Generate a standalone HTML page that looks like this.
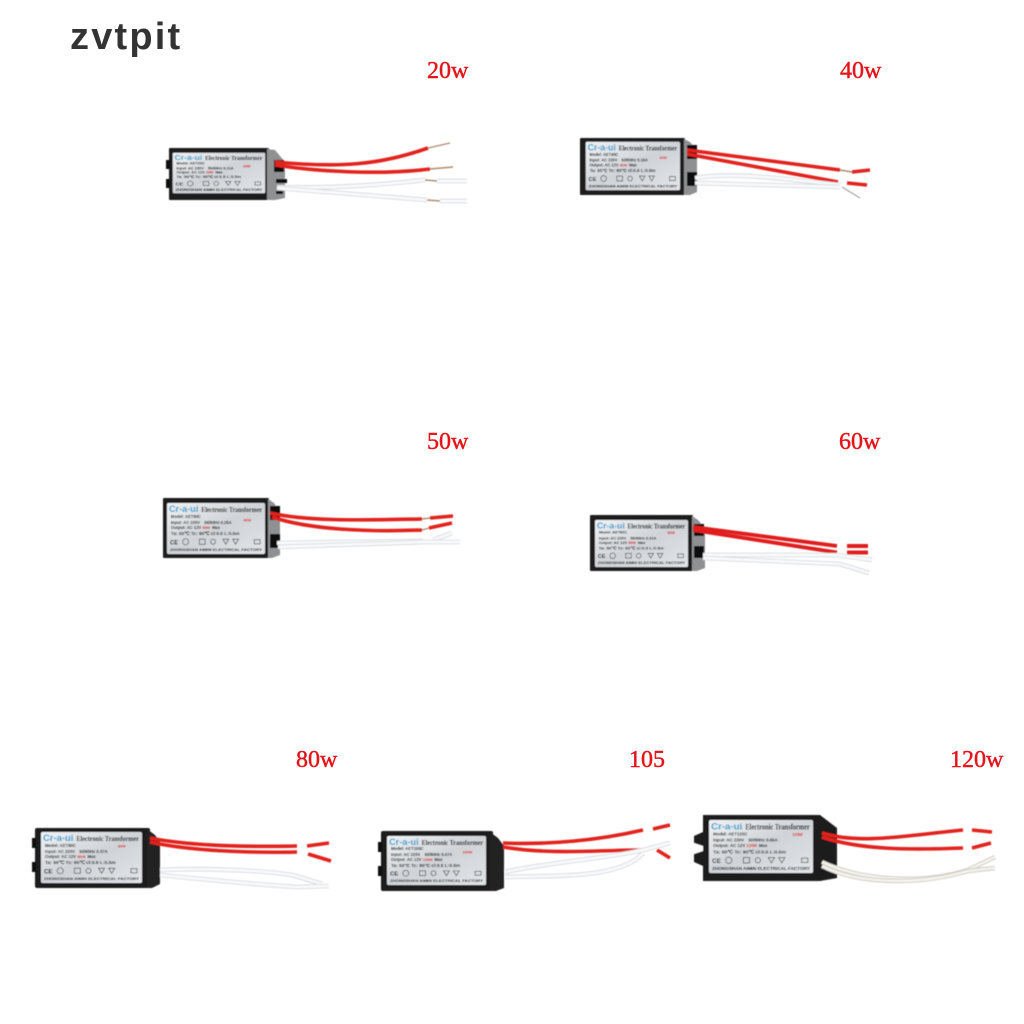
<!DOCTYPE html>
<html><head><meta charset="utf-8"><style>
html,body{margin:0;padding:0;background:#fff;width:1024px;height:1024px;overflow:hidden}
svg{display:block}
text{font-family:"Liberation Sans",sans-serif}
.s{font-family:"Liberation Serif",serif;font-size:24px;fill:#e4141a;stroke:#e4141a;stroke-width:.45}
.r{fill:none;stroke:#e2201f;stroke-width:3.6;stroke-linecap:butt}
.r4{fill:none;stroke:#e01c1e;stroke-width:3.9}
.w{fill:none;stroke:#d3d6da;stroke-width:4.6}
.w2{fill:none;stroke:#f8f9fa;stroke-width:3}
.c{fill:none;stroke:#b08a70;stroke-width:1.4}
.t{font-size:4.2px;fill:#222;font-weight:bold}
.h{font-size:7.4px;font-weight:bold;fill:#111;font-family:"Liberation Serif",serif}
.l{font-size:9px;font-weight:bold;fill:#2f9fd0}
.f{font-size:3.9px;font-weight:bold;fill:#111}
.red{font-size:3.9px;fill:#d22;font-weight:bold}
.ce{font-size:6px;font-weight:bold;fill:#111}
.i{fill:none;stroke:#444;stroke-width:.7}
</style></head><body>
<svg width="1024" height="1024" viewBox="0 0 1024 1024" xmlns="http://www.w3.org/2000/svg">
<defs>
<filter id="b" x="-5%" y="-5%" width="110%" height="110%"><feGaussianBlur stdDeviation="0.45"/></filter>
<linearGradient id="g" x1="0" y1="0" x2="1" y2="1"><stop offset="0" stop-color="#f0f2f4"/><stop offset=".5" stop-color="#cfd3d7"/><stop offset="1" stop-color="#e2e5e8"/></linearGradient>
</defs>
<text x="70" y="49" font-size="38" font-weight="bold" letter-spacing="2.200" fill="#333">zvtpit</text>
<text class="s" x="427" y="78">20w</text>
<text class="s" x="840" y="78">40w</text>
<text class="s" x="427" y="449">50w</text>
<text class="s" x="839" y="449">60w</text>
<text class="s" x="296" y="767">80w</text>
<text class="s" x="629" y="767">105</text>
<text class="s" x="950" y="767">120w</text>

<g filter="url(#b)">
<!-- D1 -->
<rect x="169" y="148" width="100" height="52" rx="1" fill="#1c1c1e"/>
<path d="M267 149L275 150L285 162V198L275 200H267Z" fill="#8f9092"/>
<rect x="274" y="160" width="10" height="12" fill="#111"/><rect x="276" y="179" width="11" height="4" fill="#111"/><rect x="276" y="191" width="7" height="3" fill="#111"/>
<rect x="166" y="160" width="4" height="9" fill="#111"/><rect x="166" y="179" width="4" height="9" fill="#111"/>
<path class="r" d="M275 162C340 168 380 165 428 148"/><path class="c" d="M428 148L450 143"/>
<path class="r" d="M275 165C320 172 380 175 430 169"/><path class="c" d="M430 169L453 167"/>
<path class="w" d="M277 187C330 189 380 185 425 180"/><path class="w2" d="M277 187C330 189 380 185 425 180"/><path class="c" d="M425 180L437 181"/><path class="w" d="M437 181H467"/><path class="w2" d="M437 181H467"/>
<path class="w" d="M277 188L427 200"/><path class="w2" d="M277 188L427 200"/><path class="c" d="M427 200L440 201"/><path class="w" d="M440 201L467 201"/><path class="w2" d="M440 201L467 201"/>
<g transform="translate(172.7,152.7) scale(.925,.81)">
<rect width="100" height="50" rx="1.5" fill="url(#g)"/>
<text class="l" x="2" y="9" textLength="30" lengthAdjust="spacingAndGlyphs">Cr-a-ui</text><text class="h" x="35" y="9" textLength="62" lengthAdjust="spacingAndGlyphs">Electronic Transformer</text>
<text class="t" x="4" y="14.500">Model: AET20C</text><text class="t" x="4" y="20.500">Input: AC 220V</text><text class="t" x="38" y="20.500">50/60Hz  0.11A</text>
<text class="t" x="4" y="25.500">Output: AC 12V</text><text class="red" x="36" y="25.500">20W</text><text class="t" x="46" y="25.500">Max</text><text class="red" x="76" y="18">20W</text>
<text class="t" x="4" y="31.500" textLength="70" lengthAdjust="spacingAndGlyphs">Ta: 50℃   Tc: 90℃   cl:0.5 L:0.5m</text>
<text class="ce" x="3" y="40.500">CE</text><circle class="i" cx="19" cy="38" r="3"/><rect class="i" x="33" y="35.500" width="6" height="5"/><circle class="i" cx="47" cy="38" r="2.500"/><path class="i" d="M57 35.500h6l-3 5zM67 35.500h6l-3 5z"/><rect class="i" x="89" y="36" width="6" height="4"/>
<text class="f" x="3" y="47" textLength="94" lengthAdjust="spacingAndGlyphs">ZHONGSHAN AIMIN ELECTRICAL FACTORY</text>
</g>
<!-- D2 -->
<rect x="580" y="138" width="105" height="57" rx="1" fill="#1c1c1e"/>
<path d="M684 139L690 142L697 150V192L690 195H684Z" fill="#8f9092"/>
<rect x="687" y="145" width="10" height="14" fill="#111"/><rect x="687" y="172" width="10" height="14" fill="#111"/>
<path class="r" d="M687 150L840 170"/><path class="r" d="M852 172L870 170"/><path class="c" d="M840 170L852 172"/>
<path class="r" d="M687 154L838 182"/><path class="r" d="M847 183L867 185"/>
<path class="w" d="M695 178C730 172 780 178 840 185"/><path class="w2" d="M695 178C730 172 780 178 840 185"/>
<path class="w" d="M695 183L840 187"/><path class="w2" d="M695 183L840 187"/>
<path d="M842 187L860 198" fill="none" stroke="#8a8a8a" stroke-width="1"/>
<g transform="translate(585.700,141.700) scale(.943,.97)">
<rect width="100" height="50" rx="1.5" fill="url(#g)"/>
<text class="l" x="2" y="9" textLength="30" lengthAdjust="spacingAndGlyphs">Cr-a-ui</text><text class="h" x="35" y="9" textLength="62" lengthAdjust="spacingAndGlyphs">Electronic Transformer</text>
<text class="t" x="4" y="14.500">Model: AET40C</text><text class="t" x="4" y="20.500">Input: AC 220V</text><text class="t" x="38" y="20.500">50/60Hz  0.16A</text>
<text class="t" x="4" y="25.500">Output: AC 12V</text><text class="red" x="36" y="25.500">40W</text><text class="t" x="46" y="25.500">Max</text><text class="red" x="78" y="18">40W</text>
<text class="t" x="4" y="31.500" textLength="70" lengthAdjust="spacingAndGlyphs">Ta: 50℃   Tc: 90℃   cl:0.5 L:0.5m</text>
<text class="ce" x="3" y="40.500">CE</text><circle class="i" cx="19" cy="38" r="3"/><rect class="i" x="33" y="35.500" width="6" height="5"/><circle class="i" cx="47" cy="38" r="2.500"/><path class="i" d="M57 35.500h6l-3 5zM67 35.500h6l-3 5z"/><rect class="i" x="89" y="36" width="6" height="4"/>
<text class="f" x="3" y="47" textLength="94" lengthAdjust="spacingAndGlyphs">ZHONGSHAN AIMIN ELECTRICAL FACTORY</text>
</g>
<!-- D3 -->
<rect x="163" y="498" width="106" height="60" rx="1" fill="#1c1c1e"/>
<path d="M268 499L274 503L280 512V555L272 558H268Z" fill="#8f9092"/>
<rect x="270" y="506" width="10" height="14" fill="#111"/><rect x="270" y="534" width="10" height="14" fill="#111"/>
<path class="r" d="M270 513C310 522 370 520 422 519"/><path class="r" d="M430 518L453 516"/><path class="c" d="M422 519L430 518"/>
<path class="r" d="M272 517C310 530 370 532 422 530"/><path class="r" d="M429 528L452 523"/><path class="c" d="M422 530L429 528"/>
<path class="w" d="M277 543L423 541"/><path class="w2" d="M277 543L423 541"/>
<path class="w" d="M433 540L452 533"/><path class="w2" d="M433 540L452 533"/>
<path class="w" d="M278 547L423 542L460 542"/><path class="w2" d="M278 547L423 542L460 542"/>
<g transform="translate(167,503) scale(.98,1.02)">
<rect width="100" height="50" rx="1.500" fill="url(#g)"/>
<text class="l" x="2" y="9" textLength="30" lengthAdjust="spacingAndGlyphs">Cr-a-ui</text><text class="h" x="35" y="9" textLength="62" lengthAdjust="spacingAndGlyphs">Electronic Transformer</text>
<text class="t" x="4" y="14.500">Model: AET50C</text><text class="t" x="4" y="20.500">Input: AC 220V</text><text class="t" x="38" y="20.500">50/60Hz  0.25A</text>
<text class="t" x="4" y="25.500">Output: AC 12V</text><text class="red" x="36" y="25.500">50W</text><text class="t" x="46" y="25.500">Max</text><text class="red" x="78" y="18">50W</text>
<text class="t" x="4" y="31.500" textLength="70" lengthAdjust="spacingAndGlyphs">Ta: 50℃   Tc: 90℃   cl:0.5 L:0.5m</text>
<text class="ce" x="3" y="40.500">CE</text><circle class="i" cx="19" cy="38" r="3"/><rect class="i" x="33" y="35.500" width="6" height="5"/><circle class="i" cx="47" cy="38" r="2.500"/><path class="i" d="M57 35.500h6l-3 5zM67 35.500h6l-3 5z"/><rect class="i" x="89" y="36" width="6" height="4"/>
<text class="f" x="3" y="47" textLength="94" lengthAdjust="spacingAndGlyphs">ZHONGSHAN AIMIN ELECTRICAL FACTORY</text>
</g>
<!-- D4 -->
<rect x="590" y="515" width="103" height="56" rx="1" fill="#1c1c1e"/>
<path d="M692 516L698 520L705 528V568L697 571H692Z" fill="#8f9092"/>
<rect x="694" y="524" width="10" height="12" fill="#111"/><rect x="694" y="546" width="10" height="12" fill="#111"/>
<path class="r4" d="M693 527L837 546"/><path class="r4" d="M847 546L868 546"/>
<path class="r4" d="M693 530L837 552.500"/><path class="r4" d="M847 552.500L868 552.500"/>
<path class="w" d="M703 555L837 555L872 560"/><path class="w2" d="M703 555L837 555L872 560"/>
<path class="w" d="M703 558L840 564L869 573"/><path class="w2" d="M703 558L840 564L869 573"/>
<g transform="translate(595,520) scale(.93,.94)">
<rect width="100" height="50" rx="1.500" fill="url(#g)"/>
<text class="l" x="2" y="9" textLength="30" lengthAdjust="spacingAndGlyphs">Cr-a-ui</text><text class="h" x="35" y="9" textLength="62" lengthAdjust="spacingAndGlyphs">Electronic Transformer</text>
<text class="t" x="4" y="14.500">Model: AET60C</text><text class="t" x="4" y="20.500">Input: AC 220V</text><text class="t" x="38" y="20.500">50/60Hz  0.31A</text>
<text class="t" x="4" y="25.500">Output: AC 12V</text><text class="red" x="36" y="25.500">60W</text><text class="t" x="46" y="25.500">Max</text><text class="red" x="78" y="15">60W</text>
<text class="t" x="4" y="31.500" textLength="70" lengthAdjust="spacingAndGlyphs">Ta: 50℃   Tc: 90℃   cl:0.5 L:0.5m</text>
<text class="ce" x="3" y="40.500">CE</text><circle class="i" cx="19" cy="38" r="3"/><rect class="i" x="33" y="35.500" width="6" height="5"/><circle class="i" cx="47" cy="38" r="2.500"/><path class="i" d="M57 35.500h6l-3 5zM67 35.500h6l-3 5z"/><rect class="i" x="89" y="36" width="6" height="4"/>
<text class="f" x="3" y="47" textLength="94" lengthAdjust="spacingAndGlyphs">ZHONGSHAN AIMIN ELECTRICAL FACTORY</text>
</g>
<!-- D5 -->
<rect x="35" y="828" width="115" height="60" rx="2" fill="#1c1c1e"/>
<path d="M147 829L155 835L160 842V884L152 888H147Z" fill="#222"/>
<rect x="32" y="838" width="4" height="10" fill="#111"/><rect x="32" y="862" width="4" height="10" fill="#111"/>
<path class="r" d="M150 838C190 846 250 847 297 846"/><path class="r" d="M307 846L329 843"/>
<path class="r" d="M150 842C190 851 250 853 297 852"/><path class="r" d="M308 854L331 861"/>
<path class="w" d="M160 870C200 868 260 870 292 875L322 884"/><path class="w2" d="M160 870C200 868 260 870 292 875L322 884"/>
<path class="w" d="M160 875C200 879 260 885 298 887L329 886"/><path class="w2" d="M160 875C200 879 260 885 298 887L329 886"/>
<g transform="translate(41,832) scale(1.01,1.02)">
<rect width="100" height="50" rx="1.500" fill="url(#g)"/>
<text class="l" x="2" y="9" textLength="30" lengthAdjust="spacingAndGlyphs">Cr-a-ui</text><text class="h" x="35" y="9" textLength="62" lengthAdjust="spacingAndGlyphs">Electronic Transformer</text>
<text class="t" x="4" y="14.500">Model: AET80C</text><text class="t" x="4" y="20.500">Input: AC 220V</text><text class="t" x="38" y="20.500">50/60Hz  0.37A</text>
<text class="t" x="4" y="25.500">Output: AC 12V</text><text class="red" x="36" y="25.500">80W</text><text class="t" x="46" y="25.500">Max</text><text class="red" x="76" y="15">80W</text>
<text class="t" x="4" y="31.500" textLength="70" lengthAdjust="spacingAndGlyphs">Ta: 50℃   Tc: 90℃   cl:0.5 L:0.5m</text>
<text class="ce" x="3" y="40.500">CE</text><circle class="i" cx="19" cy="38" r="3"/><rect class="i" x="33" y="35.500" width="6" height="5"/><circle class="i" cx="47" cy="38" r="2.500"/><path class="i" d="M57 35.500h6l-3 5zM67 35.500h6l-3 5z"/><rect class="i" x="89" y="36" width="6" height="4"/>
<text class="f" x="3" y="47" textLength="94" lengthAdjust="spacingAndGlyphs">ZHONGSHAN AIMIN ELECTRICAL FACTORY</text>
</g>
<!-- D6 -->
<rect x="381" y="831" width="112" height="60" rx="2" fill="#1c1c1e"/>
<path d="M490 832L498 838L504 846V888L496 891H490Z" fill="#222"/>
<rect x="378" y="842" width="4" height="10" fill="#111"/><rect x="378" y="866" width="4" height="10" fill="#111"/>
<path class="r" d="M503 843C550 845 600 840 643 830"/><path class="r" d="M653 829L670 825"/>
<path class="r" d="M503 847C550 855 600 850 643 850"/><path class="r" d="M657 850L670 858"/>
<path class="w" d="M505 872C550 862 610 858 643 850L670 843"/><path class="w2" d="M505 872C550 862 610 858 643 850L670 843"/>
<path class="w" d="M505 877C550 875 620 880 643 853"/><path class="w2" d="M505 877C550 875 620 880 643 853"/>
<g transform="translate(387,836) scale(.99,.98)">
<rect width="100" height="50" rx="1.500" fill="url(#g)"/>
<text class="l" x="2" y="9" textLength="30" lengthAdjust="spacingAndGlyphs">Cr-a-ui</text><text class="h" x="35" y="9" textLength="62" lengthAdjust="spacingAndGlyphs">Electronic Transformer</text>
<text class="t" x="4" y="14.500">Model: AET105C</text><text class="t" x="4" y="20.500">Input: AC 220V</text><text class="t" x="38" y="20.500">50/60Hz  0.47A</text>
<text class="t" x="4" y="25.500">Output: AC 12V</text><text class="red" x="36" y="25.500">105W</text><text class="t" x="48" y="25.500">Max</text><text class="red" x="76" y="18">105W</text>
<text class="t" x="4" y="31.500" textLength="70" lengthAdjust="spacingAndGlyphs">Ta: 50℃   Tc: 90℃   cl:0.5 L:0.5m</text>
<text class="ce" x="3" y="40.500">CE</text><circle class="i" cx="19" cy="38" r="3"/><rect class="i" x="33" y="35.500" width="6" height="5"/><circle class="i" cx="47" cy="38" r="2.500"/><path class="i" d="M57 35.500h6l-3 5zM67 35.500h6l-3 5z"/><rect class="i" x="89" y="36" width="6" height="4"/>
<text class="f" x="3" y="47" textLength="94" lengthAdjust="spacingAndGlyphs">ZHONGSHAN AIMIN ELECTRICAL FACTORY</text>
</g>
<!-- D7 -->
<path d="M703 815H820L837 828V878L820 881H703V866L694 862V836L703 832Z" fill="#1c1c1e"/>
<path d="M694 843L703 846V851L694 854Z" fill="#fff"/>
<path class="r" d="M822 833C860 845 910 835 963 830"/><path class="r" d="M972 830L992 832"/>
<path class="r" d="M822 837C860 850 910 850 963 848"/><path class="r" d="M972 848L991 843"/>
<path d="M822 862C860 880 920 885 968 870L995 857" fill="none" stroke="#cfcdc2" stroke-width="4.500"/><path d="M822 862C860 880 920 885 968 870L995 857" fill="none" stroke="#f4f3ee" stroke-width="2.600"/>
<path d="M822 866C860 885 920 885 968 871L995 868" fill="none" stroke="#cfcdc2" stroke-width="4.500"/><path d="M822 866C860 885 920 885 968 871L995 868" fill="none" stroke="#f4f3ee" stroke-width="2.600"/>
<g transform="translate(709,820) scale(1.04,1.06)">
<rect width="100" height="50" rx="1.500" fill="url(#g)"/>
<text class="l" x="2" y="9" textLength="30" lengthAdjust="spacingAndGlyphs">Cr-a-ui</text><text class="h" x="35" y="9" textLength="62" lengthAdjust="spacingAndGlyphs">Electronic Transformer</text>
<text class="t" x="4" y="14.500">Model: AET120C</text><text class="t" x="4" y="20.500">Input: AC 220V</text><text class="t" x="38" y="20.500">50/60Hz  0.55A</text>
<text class="t" x="4" y="25.500">Output: AC 12V</text><text class="red" x="36" y="25.500">120W</text><text class="t" x="48" y="25.500">Max</text><text class="red" x="80" y="15">120W</text>
<text class="t" x="4" y="31.500" textLength="70" lengthAdjust="spacingAndGlyphs">Ta: 50℃   Tc: 90℃   cl:0.5 L:0.5m</text>
<text class="ce" x="3" y="40.500">CE</text><circle class="i" cx="19" cy="38" r="3"/><rect class="i" x="33" y="35.500" width="6" height="5"/><circle class="i" cx="47" cy="38" r="2.500"/><path class="i" d="M57 35.500h6l-3 5zM67 35.500h6l-3 5z"/><rect class="i" x="89" y="36" width="6" height="4"/>
<text class="f" x="3" y="47" textLength="94" lengthAdjust="spacingAndGlyphs">ZHONGSHAN AIMIN ELECTRICAL FACTORY</text>
</g>
</g>
</svg>
</body></html>
